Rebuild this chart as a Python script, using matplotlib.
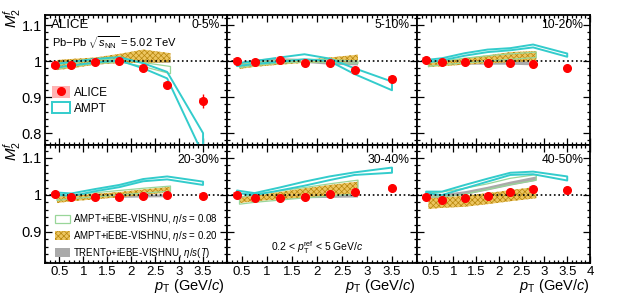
import matplotlib
matplotlib.use('Agg')
import matplotlib.pyplot as plt
from matplotlib.patches import Patch, Rectangle
from matplotlib.lines import Line2D
from matplotlib.ticker import MultipleLocator, FixedLocator

plt.rcParams['font.family'] = ['Liberation Sans', 'DejaVu Sans']
plt.rcParams['mathtext.fontset'] = 'custom'
plt.rcParams['mathtext.rm'] = 'Liberation Sans'
plt.rcParams['mathtext.it'] = 'Liberation Sans:italic'
plt.rcParams['mathtext.bf'] = 'Liberation Sans:bold'
plt.rcParams['hatch.linewidth'] = 0.5

##################
# Data
##################

centralities = ['0-5%', '5-10%', '10-20%', '20-30%', '30-40%', '40-50%']

alice_x = [0.4, 0.75, 1.25, 1.75, 2.25, 2.75, 3.5]
alice_y = [
    [0.988, 0.989, 0.998, 1.000, 0.980, 0.935, 0.890],
    [1.001, 0.997, 1.003, 0.996, 0.996, 0.975, 0.951],
    [1.003, 0.997, 0.997, 0.996, 0.995, 0.992, 0.980],
    [1.002, 0.995, 0.994, 0.994, 0.997, 1.000, 0.997],
    [1.000, 0.991, 0.991, 0.994, 1.003, 1.007, 1.018],
    [0.995, 0.986, 0.991, 0.998, 1.007, 1.016, 1.014],
]
alice_stat = [
    [0.002, 0.002, 0.002, 0.002, 0.003, 0.004, 0.020],
    [0.002, 0.002, 0.002, 0.002, 0.002, 0.003, 0.007],
    [0.002, 0.002, 0.002, 0.002, 0.002, 0.002, 0.004],
    [0.002, 0.002, 0.002, 0.002, 0.002, 0.002, 0.003],
    [0.002, 0.002, 0.002, 0.002, 0.002, 0.002, 0.003],
    [0.002, 0.002, 0.002, 0.002, 0.002, 0.002, 0.003],
]
alice_syst = 0.007

# AMPT (cyan outline)
ampt_x = [0.4, 0.75, 1.25, 1.75, 2.25, 2.75, 3.5]
ampt_lo = [
    [0.982, 0.988, 0.996, 1.002, 0.980, 0.952, 0.740],
    [0.986, 0.992, 0.998, 1.005, 1.000, 0.964, 0.919],
    [0.997, 1.002, 1.015, 1.025, 1.030, 1.038, 1.012],
    [1.002, 0.997, 1.010, 1.021, 1.037, 1.042, 1.027],
    [1.005, 1.000, 1.012, 1.025, 1.040, 1.054, 1.060],
    [1.005, 1.000, 1.018, 1.036, 1.054, 1.056, 1.039],
]
ampt_hi = [
    [0.992, 0.998, 1.006, 1.011, 0.994, 0.970, 0.800],
    [0.994, 1.000, 1.010, 1.019, 1.007, 0.980, 0.943],
    [1.003, 1.008, 1.022, 1.032, 1.036, 1.046, 1.021],
    [1.007, 1.004, 1.016, 1.027, 1.043, 1.050, 1.036],
    [1.012, 1.005, 1.020, 1.036, 1.050, 1.061, 1.074],
    [1.009, 1.009, 1.027, 1.044, 1.060, 1.063, 1.050],
]

# hydro models
hydro_x = [0.45, 0.75, 1.25, 1.75, 2.25, 2.82]
eta008_lo = [
    [0.978, 0.985, 0.993, 0.998, 0.985, 0.965],
    [0.982, 0.988, 0.994, 0.998, 0.996, 0.994],
    [0.985, 0.990, 0.995, 1.000, 1.005, 1.010],
    [0.985, 0.990, 0.995, 1.000, 1.005, 1.010],
    [0.975, 0.980, 0.986, 0.992, 0.997, 1.003],
    [0.995, 0.995, 1.002, 1.015, 1.028, 1.040],
]
eta008_hi = [
    [0.990, 0.995, 1.003, 1.006, 0.996, 0.985],
    [0.990, 0.996, 1.002, 1.005, 1.004, 1.000],
    [0.995, 1.000, 1.008, 1.015, 1.020, 1.025],
    [0.997, 1.000, 1.006, 1.012, 1.018, 1.024],
    [0.994, 1.001, 1.011, 1.020, 1.030, 1.040],
    [1.005, 1.008, 1.018, 1.030, 1.045, 1.055],
]
eta020_lo = [
    [0.975, 0.980, 0.990, 0.995, 0.995, 0.997],
    [0.978, 0.984, 0.990, 0.995, 0.997, 1.000],
    [0.983, 0.986, 0.990, 0.994, 0.997, 1.000],
    [0.978, 0.983, 0.988, 0.994, 1.000, 1.007],
    [0.978, 0.983, 0.988, 0.993, 0.998, 1.005],
    [0.962, 0.965, 0.968, 0.975, 0.983, 0.991],
]
eta020_hi = [
    [1.003, 1.006, 1.010, 1.020, 1.032, 1.022],
    [0.993, 0.995, 0.998, 1.003, 1.010, 1.018],
    [0.995, 1.000, 1.008, 1.016, 1.025, 1.028],
    [0.995, 0.998, 1.003, 1.008, 1.015, 1.022],
    [0.992, 0.998, 1.008, 1.018, 1.027, 1.036],
    [0.991, 0.993, 0.998, 1.005, 1.013, 1.022],
]
trento_lo = [
    [0.980, 0.985, 0.990, 0.995, 0.995, 0.995],
    [0.988, 0.992, 0.995, 0.995, 0.990, 0.988],
    [0.988, 0.990, 0.990, 0.990, 0.990, 0.988],
    [0.990, 0.990, 0.991, 0.992, 0.993, 0.994],
    [0.988, 0.990, 0.990, 0.991, 0.992, 0.993],
    [0.990, 0.992, 1.000, 1.012, 1.025, 1.038],
]
trento_hi = [
    [0.990, 0.995, 1.000, 1.005, 1.010, 1.010],
    [0.996, 1.005, 1.008, 1.006, 1.003, 1.000],
    [0.996, 0.998, 0.998, 1.000, 1.000, 0.999],
    [0.998, 0.998, 0.999, 1.000, 1.000, 1.002],
    [0.996, 0.998, 0.999, 1.000, 1.001, 1.002],
    [0.998, 1.002, 1.010, 1.022, 1.036, 1.050],
]

##################
# Style
##################

c_cyan = '#33cccc'
c_green = '#99d699'
c_gold_face = '#ecc560'
c_gold_hatch = '#b8860b'
c_gray = '#aaaaaa'
c_red = '#ff0000'
c_pink = '#ffb3b3'

W, H = 630., 301.
cols = [(45, 227), (227, 417), (417, 590)]
rows = [(15, 145, (0.767, 1.128)), (145, 263, (0.816, 1.135))]

fig = plt.figure(figsize=(W/100, H/100), dpi=100)

axes = []
for r, (yt, yb, ylim) in enumerate(rows):
    for c, (xl, xr) in enumerate(cols):
        ax = fig.add_axes([xl/W, 1-yb/H, (xr-xl)/W, (yb-yt)/H])
        axes.append(ax)

for k, ax in enumerate(axes):
    r, c = divmod(k, 3)

    ax.fill_between(hydro_x, trento_lo[k], trento_hi[k], facecolor=c_gray,
                    edgecolor='none', zorder=1)
    ax.fill_between(hydro_x, eta020_lo[k], eta020_hi[k], facecolor=c_gold_face,
                    edgecolor=c_gold_hatch, hatch='xxxxxx', linewidth=0, zorder=2)
    ax.fill_between(hydro_x, eta008_lo[k], eta008_hi[k], facecolor='none',
                    edgecolor=c_green, linewidth=0.9, zorder=3)
    ax.fill_between(ampt_x, ampt_lo[k], ampt_hi[k], facecolor='none',
                    edgecolor=c_cyan, linewidth=1.4, zorder=4)

    ax.axhline(1.0, color='k', ls=':', lw=1.2, zorder=5)

    for xv, yv in zip(alice_x, alice_y[k]):
        ax.add_patch(Rectangle((xv-0.08, yv-alice_syst), 0.16, 2*alice_syst,
                               facecolor=c_pink, edgecolor='none', zorder=6))
    ax.errorbar(alice_x, alice_y[k], yerr=alice_stat[k], fmt='o', color=c_red,
                ms=5.5, elinewidth=1.0, capsize=0, zorder=7)

    # ticks
    ax.xaxis.set_major_locator(FixedLocator([0.5, 1, 1.5, 2, 2.5, 3, 3.5, 4]))
    ax.xaxis.set_minor_locator(MultipleLocator(0.1))
    ax.yaxis.set_major_locator(FixedLocator([0.8, 0.9, 1.0, 1.1]))
    ax.yaxis.set_minor_locator(MultipleLocator(0.02))
    ax.tick_params(which='both', direction='in', top=True, right=True,
                   width=0.9, pad=2)
    ax.tick_params(which='major', length=5)
    ax.tick_params(which='minor', length=2.5)
    ax.tick_params(axis='x', labelsize=9.5)
    ax.tick_params(axis='y', labelsize=10.5)
    for sp in ax.spines.values():
        sp.set_linewidth(1.3)

    if c == 0:
        ax.set_yticklabels(['0.8', '0.9', '1', '1.1'])
    else:
        ax.set_yticklabels([])
    if r == 1:
        labs = ['0.5', '1', '1.5', '2', '2.5', '3', '3.5', '4' if c == 2 else '']
        ax.set_xticklabels(labs)
    else:
        ax.set_xticklabels([])

    ax.set_xlim(0.2, 4.0)
    ax.set_ylim(*rows[r][2])

    ax.text(0.96, 0.92 if r == 0 else 0.875, centralities[k], transform=ax.transAxes,
            ha='right', va='center', fontsize=8.7)

ax0 = axes[0]
ax0.text(0.035, 0.923, 'ALICE', transform=ax0.transAxes, ha='left', va='center',
         fontsize=9.5)
ax0.text(0.04, 0.79, r'Pb$-$Pb $\sqrt{s_{\rm NN}}$ = 5.02 TeV', transform=ax0.transAxes,
         ha='left', va='center', fontsize=8)

h_alice = (Rectangle((0, 0), 1, 1, facecolor=c_pink, edgecolor='none'),
           Line2D([], [], marker='o', color=c_red, ls='none', ms=5.5))
h_ampt = Patch(facecolor='none', edgecolor=c_cyan, linewidth=1.4)
ax0.legend([h_alice, h_ampt], ['ALICE', 'AMPT'], loc='upper left',
           bbox_to_anchor=(0.04, 0.45), frameon=False, fontsize=8.5,
           handlelength=1.5, handleheight=1.1, handletextpad=0.3,
           labelspacing=0.25, borderaxespad=0, borderpad=0)

ax3 = axes[3]
h08 = Patch(facecolor='white', edgecolor=c_green, linewidth=0.9)
h20 = Patch(facecolor=c_gold_face, edgecolor=c_gold_hatch, hatch='xxxxxx', linewidth=0)
hTr = Patch(facecolor=c_gray, edgecolor='none')
ax3.legend([h08, h20, hTr],
           [r'AMPT+iEBE-VISHNU, $\eta/s$ = 0.08',
            r'AMPT+iEBE-VISHNU, $\eta/s$ = 0.20',
            r'TRENTo+iEBE-VISHNU, $\eta/s(T)$'],
           loc='upper left', bbox_to_anchor=(0.055, 0.43), frameon=False,
           fontsize=7, handlelength=1.5, handleheight=1.0, handletextpad=0.3,
           labelspacing=0.3, borderaxespad=0, borderpad=0)

axes[4].text(0.474, 0.127, r'0.2 < $p_{\rm T}^{\rm ref}$ < 5 GeV/$c$',
             transform=axes[4].transAxes, ha='center', va='center', fontsize=7.5)

# axis titles (ROOT style: at the ends)
for yt in (8, 141):
    fig.text(12/W, 1-yt/H, r'$M_{2}^{f}$', rotation=90, ha='center', va='top',
             fontsize=11)
for xr in (225, 416, 590):
    fig.text(xr/W, 1-286/H, r'$p_{\rm T}$ (GeV/$c$)', ha='right', va='center',
             fontsize=10.5)

fig.savefig('out.png', dpi=100)
